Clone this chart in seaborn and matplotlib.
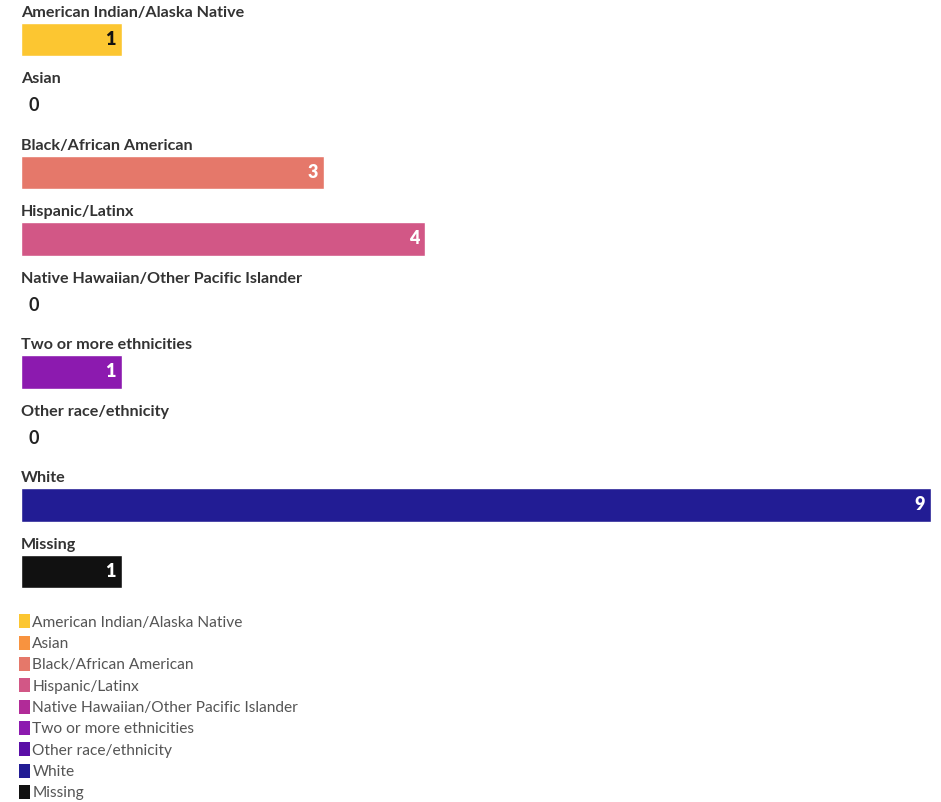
import seaborn as sns
import matplotlib.pyplot as plt
import matplotlib.patches as mpatches
import pandas as pd

# Data
categories = ['American Indian/Alaska Native', 'Asian', 'Black/African American',
              'Hispanic/Latinx', 'Native Hawaiian/Other Pacific Islander',
              'Two or more ethnicities', 'Other race/ethnicity', 'White', 'Missing']
counts = [1, 0, 3, 4, 0, 1, 0, 9, 1]
colors = ['#FCC631', '#F8933F', '#E5786A', '#D25786', '#B12B98',
          '#8C1AAF', '#5A0EA6', '#221C94', '#111111']
label_colors = ['#111111', '#222222', '#ffffff', '#ffffff', '#222222',
                '#ffffff', '#222222', '#ffffff', '#ffffff']

df = pd.DataFrame({'Category': categories, 'Count': counts})

sns.set_style('white')
plt.rcParams['font.family'] = ['Lato', 'DejaVu Sans']

fig = plt.figure(figsize=(9.41, 8.02), dpi=100)
ax = fig.add_axes([21 / 941, 1 - 600 / 802, 910 / 941, 600 / 802])

sns.barplot(data=df, x='Count', y='Category', hue='Category',
            palette=dict(zip(categories, colors)), orient='h', saturation=1,
            width=0.5, legend=False, dodge=False, ax=ax)

ax.set_xlim(0, 9)
ax.set_ylim(8.43, -0.594)
ax.axis('off')

for i, (cat, val) in enumerate(zip(categories, counts)):
    # category label above the bar
    ax.text(0, i - 0.4, cat, ha='left', va='center', fontsize=11.6,
            fontweight='bold', color='#333333')
    if val > 0:
        ax.text(val - 0.06, i, str(val), ha='right', va='center', fontsize=13,
                fontweight='heavy', color=label_colors[i])
    else:
        ax.text(0.07, i, str(val), ha='left', va='center', fontsize=13,
                fontweight='bold', color='#222222')

handles = [mpatches.Patch(facecolor=c, edgecolor='none') for c in colors]
leg = fig.legend(handles, categories, loc='upper left',
                 bbox_to_anchor=(13 / 941, 1 - 608 / 802), frameon=False,
                 fontsize=11.2, handlelength=0.7, handleheight=1.0,
                 handletextpad=0.15, labelspacing=0.39, borderaxespad=0)
for t in leg.get_texts():
    t.set_color('#555555')

plt.savefig('out.png', dpi=100)
